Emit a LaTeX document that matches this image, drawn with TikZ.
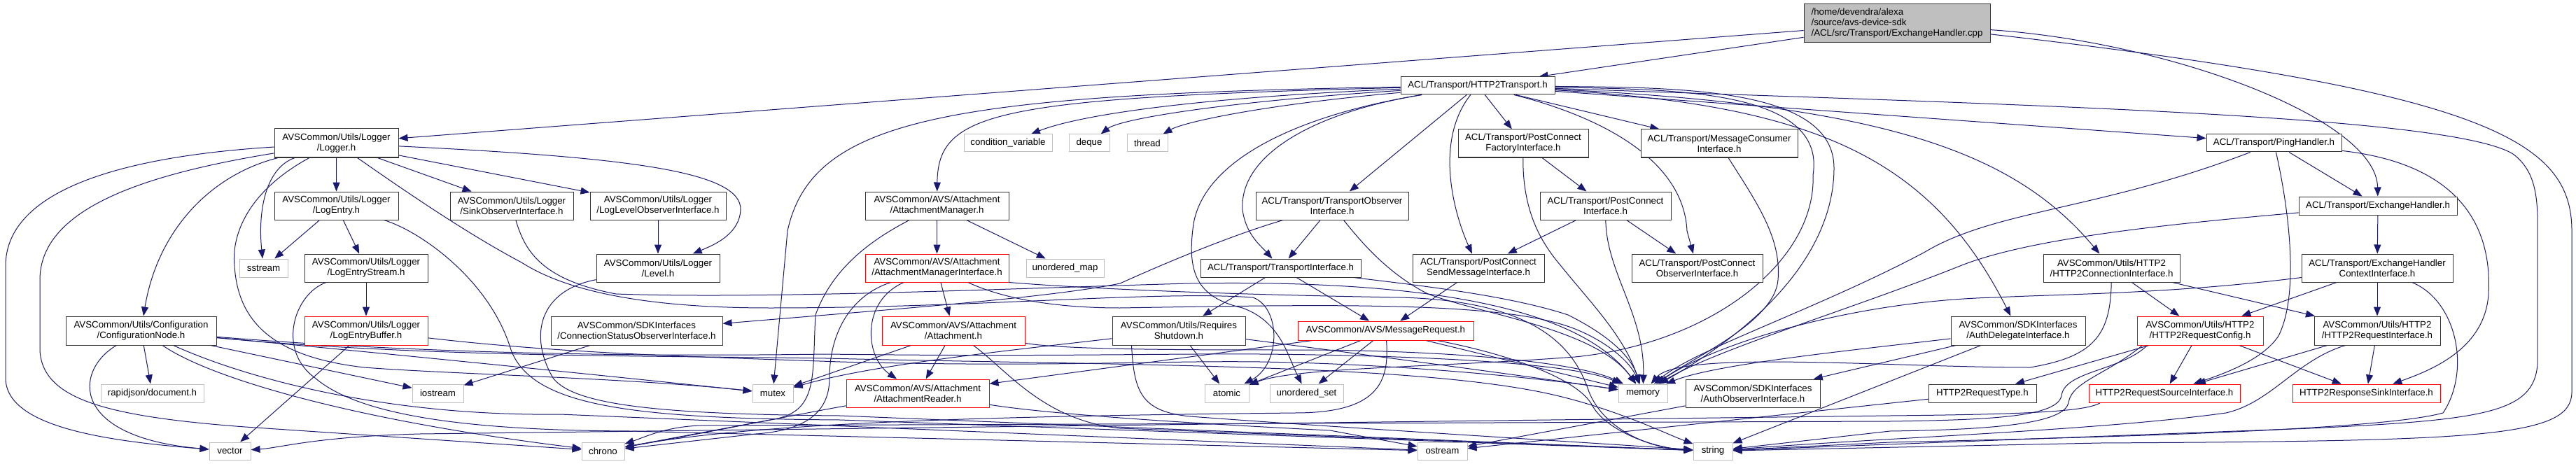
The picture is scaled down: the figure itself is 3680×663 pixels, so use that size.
\documentclass[tikz,border=0pt]{standalone}
\usepackage{fontspec}
\setmainfont{Liberation Sans}
\usetikzlibrary{arrows.meta,backgrounds}
\definecolor{eblue}{HTML}{191970}
\definecolor{gsev}{HTML}{BFBFBF}
\definecolor{bdark}{HTML}{333333}
\begin{document}
\begin{tikzpicture}[x=1pt,y=-1pt,
  box/.style={draw=bdark, line width=1pt, fill=white, inner sep=0pt, align=center,
     font=\fontsize{13.3pt}{15pt}\selectfont, text=black},
  rbox/.style={box, draw=red},
  gbox/.style={box, draw=gsev},
  tbox/.style={box, fill=gsev, align=left},
  sz/.style 2 args={minimum width=#1pt, minimum height=#2pt},
  edg/.style={draw=eblue, line width=1pt, -{Triangle[length=13pt,width=10pt]}}
]
\useasboundingbox (0,0) rectangle (3680,663);
% ---------------- nodes ----------------
\node[tbox, sz={266}{55}] (cpp) at (2710,33.5) {/home/devendra/alexa\\/source/avs-device-sdk\\/ACL/src/Transport/ExchangeHandler.cpp};
\node[box, sz={220}{25}] (h2t) at (2111,122.5) {ACL/Transport/HTTP2Transport.h};
\node[box, sz={177}{41}] (logger) at (480.5,204.5) {AVSCommon/Utils/Logger\\/Logger.h};
\node[box, sz={177}{40}] (logentry) at (480.5,294) {AVSCommon/Utils/Logger\\/LogEntry.h};
\node[box, sz={176}{40}] (sink) at (731,294) {AVSCommon/Utils/Logger\\/SinkObserverInterface.h};
\node[box, sz={194}{40}] (loglevel) at (940,294) {AVSCommon/Utils/Logger\\/LogLevelObserverInterface.h};
\node[gbox, sz={69}{26}] (sstream) at (376.5,383) {sstream};
\node[box, sz={176}{40}] (les) at (523,383) {AVSCommon/Utils/Logger\\/LogEntryStream.h};
\node[box, sz={176}{40}] (level) at (940,383) {AVSCommon/Utils/Logger\\/Level.h};
\node[rbox, sz={176}{41}] (leb) at (523,472.5) {AVSCommon/Utils/Logger\\/LogEntryBuffer.h};
\node[box, sz={215}{41}] (confnode) at (201.5,472.5) {AVSCommon/Utils/Configuration\\/ConfigurationNode.h};
\node[gbox, sz={147}{26}] (rapidjson) at (217.5,562) {rapidjson/document.h};
\node[gbox, sz={73}{26}] (iostream) at (625.5,562) {iostream};
\node[gbox, sz={59}{25}] (vector) at (328.5,644.5) {vector};
\node[gbox, sz={61}{25}] (chrono) at (861.5,644.5) {chrono};
\node[gbox, sz={58}{26}] (mutex) at (1104,562) {mutex};
\node[box, sz={245}{41}] (connstatus) at (909.5,472.5) {AVSCommon/SDKInterfaces\\/ConnectionStatusObserverInterface.h};
\node[gbox, sz={126}{25}] (cv) at (1440,204.5) {condition\_variable};
\node[gbox, sz={58}{25}] (deque) at (1556,204.5) {deque};
\node[gbox, sz={58}{25}] (thread) at (1639,204.5) {thread};
\node[box, sz={205}{40}] (am) at (1338.5,294) {AVSCommon/AVS/Attachment\\/AttachmentManager.h};
\node[gbox, sz={111}{26}] (umap) at (1521.5,383) {unordered\_map};
\node[rbox, sz={205}{40}] (ami) at (1338.5,383) {AVSCommon/AVS/Attachment\\/AttachmentManagerInterface.h};
\node[rbox, sz={204}{41}] (att) at (1362,472.5) {AVSCommon/AVS/Attachment\\/Attachment.h};
\node[rbox, sz={204}{40}] (ar) at (1311,562) {AVSCommon/AVS/Attachment\\/AttachmentReader.h};
\node[box, sz={218}{40}] (tobs) at (1903,294) {ACL/Transport/TransportObserver\\Interface.h};
\node[box, sz={229}{26}] (ti) at (1829.5,383) {ACL/Transport/TransportInterface.h};
\node[box, sz={190}{41}] (rs) at (1684,472.5) {AVSCommon/Utils/Requires\\Shutdown.h};
\node[rbox, sz={251}{27}] (mr) at (1979.5,472.5) {AVSCommon/AVS/MessageRequest.h};
\node[gbox, sz={63}{26}] (atomic) at (1752.5,562) {atomic};
\node[gbox, sz={105}{26}] (uset) at (1866.5,562) {unordered\_set};
\node[gbox, sz={71}{25}] (ostream) at (2060.5,644.5) {ostream};
\node[box, sz={186}{40}] (pcf) at (2176,205) {ACL/Transport/PostConnect\\FactoryInterface.h};
\node[box, sz={187}{40}] (pci) at (2293.5,294) {ACL/Transport/PostConnect\\Interface.h};
\node[box, sz={188}{40}] (pcs) at (2112,383) {ACL/Transport/PostConnect\\SendMessageInterface.h};
\node[box, sz={187}{40}] (pcobs) at (2424.5,383) {ACL/Transport/PostConnect\\ObserverInterface.h};
\node[box, sz={224}{40}] (mcons) at (2456,205) {ACL/Transport/MessageConsumer\\Interface.h};
\node[gbox, sz={70}{26}] (memory) at (2347,562) {memory};
\node[gbox, sz={56}{25}] (string) at (2447,644.5) {string};
\node[box, sz={195}{40}] (h2conn) at (3016.5,383) {AVSCommon/Utils/HTTP2\\/HTTP2ConnectionInterface.h};
\node[box, sz={192}{41}] (authd) at (2883,472.5) {AVSCommon/SDKInterfaces\\/AuthDelegateInterface.h};
\node[box, sz={192}{40}] (authobs) at (2504,562) {AVSCommon/SDKInterfaces\\/AuthObserverInterface.h};
\node[box, sz={154}{26}] (h2rtype) at (2832,562) {HTTP2RequestType.h};
\node[box, sz={193}{25}] (ping) at (3248.5,204.5) {ACL/Transport/PingHandler.h};
\node[box, sz={226}{26}] (eh) at (3397,294) {ACL/Transport/ExchangeHandler.h};
\node[box, sz={216}{40}] (ehc) at (3396,383) {ACL/Transport/ExchangeHandler\\ContextInterface.h};
\node[rbox, sz={180}{41}] (h2rc) at (3143,472.5) {AVSCommon/Utils/HTTP2\\/HTTP2RequestConfig.h};
\node[box, sz={180}{41}] (h2ri) at (3396,472.5) {AVSCommon/Utils/HTTP2\\/HTTP2RequestInterface.h};
\node[rbox, sz={216}{26}] (h2rsrc) at (3092,562) {HTTP2RequestSourceInterface.h};
\node[rbox, sz={211}{26}] (h2rsink) at (3380.5,562) {HTTP2ResponseSinkInterface.h};
% ---------------- edges ----------------
\begin{pgfonlayer}{background}
\fill[white] (0,0) rectangle (3680,663);
% cpp
\draw[edg] (cpp) -- (h2t);
\draw[edg] (cpp) -- (logger);
\draw[edg] (cpp) .. controls (3100,60) and (3395,170) .. (eh);
\draw[edg] (cpp) .. controls (3550,130) and (3674,200) .. (3674,330) -- (3674,560) .. controls (3674,625) and (3550,630) .. (3000,633) -- (string);
% HTTP2Transport
\draw[edg] (h2t) .. controls (1700,140) and (1540,165) .. (cv);
\draw[edg] (h2t) .. controls (1750,145) and (1600,170) .. (deque);
\draw[edg] (h2t) .. controls (1800,150) and (1690,175) .. (thread);
\draw[edg] (h2t) .. controls (1420,140) and (1340,160) .. (am);
\draw[edg] (h2t) .. controls (1350,135) and (1160,170) .. (1125,330) -- (mutex);
\draw[edg] (h2t) -- (tobs);
\draw[edg] (h2t) .. controls (1880,160) and (1770,220) .. (1775,300) .. controls (1780,335) and (1800,350) .. (ti);
\draw[edg] (h2t) -- (pcf);
\draw[edg] (h2t) .. controls (2050,200) and (2075,300) .. (pcs);
\draw[edg] (h2t) -- (mcons);
\draw[edg] (h2t) .. controls (2280,165) and (2405,225) .. (2410,330) -- (pcobs);
\draw[edg] (h2t) -- (ping);
\draw[edg] (h2t) .. controls (2700,150) and (2880,220) .. (h2conn);
\draw[edg] (h2t) .. controls (2600,150) and (2760,230) .. (authd);
\draw[edg] (h2t) .. controls (2400,125) and (2620,125) .. (2620,240) .. controls (2620,330) and (2560,440) .. (memory);
\draw[edg] (h2t) .. controls (2380,128) and (2610,125) .. (2590,250) .. controls (2595,370) and (2450,490) .. (2250,510) .. controls (2050,525) and (1850,525) .. (atomic);
\draw[edg] (h2t) .. controls (1850,165) and (1720,230) .. (1705,320) .. controls (1695,390) and (1710,425) .. (1775,440) .. controls (1830,460) and (1840,510) .. (uset);
\draw[edg] (h2t) .. controls (2900,150) and (3500,165) .. (3590,220) .. controls (3630,250) and (3625,300) .. (3625,360) -- (3625,520) .. controls (3620,590) and (3550,600) .. (3300,612) -- (string);
% Logger
\draw[edg] (logger) -- (logentry);
\draw[edg] (logger) -- (sink);
\draw[edg] (logger) -- (loglevel);
\draw[edg] (logger) .. controls (900,225) and (1060,245) .. (1058,300) .. controls (1056,335) and (1020,350) .. (level);
\draw[edg] (logger) .. controls (150,225) and (8,280) .. (8,380) -- (8,540) .. controls (8,610) and (150,630) .. (vector);
\draw[edg] (logger) .. controls (200,250) and (57,300) .. (57,400) -- (57,500) .. controls (60,570) and (150,595) .. (350,610) -- (chrono);
\draw[edg] (logger) .. controls (300,250) and (225,330) .. (confnode);
\draw[edg] (logger) .. controls (380,240) and (368,300) .. (sstream);
\draw[edg] (logger) .. controls (360,270) and (330,330) .. (335,380) .. controls (340,460) and (390,510) .. (520,525) .. controls (650,535) and (900,540) .. (mutex);
\draw[edg] (logger) .. controls (560,260) and (660,330) .. (745,375) .. controls (800,410) and (900,440) .. (1100,440) .. controls (1400,440) and (1650,415) .. (1790,425) .. controls (1830,440) and (1830,520) .. (atomic);
% LogEntry
\draw[edg] (logentry) -- (sstream);
\draw[edg] (logentry) -- (les);
\draw[edg] (logentry) .. controls (600,330) and (700,400) .. (730,500) .. controls (760,580) and (900,598) .. (1200,600) -- (string);
% Sink, LogLevel, Level
\draw[edg] (sink) .. controls (750,360) and (775,400) .. (880,420) .. controls (1100,428) and (1500,410) .. (1700,405) .. controls (2000,400) and (2250,430) .. (memory);
\draw[edg] (loglevel) -- (level);
\draw[edg] (level) .. controls (770,415) and (755,480) .. (790,540) .. controls (820,580) and (950,592) .. (1200,594) -- (string);
% LogEntryStream, LogEntryBuffer
\draw[edg] (les) -- (leb);
\draw[edg] (les) .. controls (420,420) and (395,500) .. (450,540) .. controls (520,600) and (700,615) .. (900,616) -- (ostream);
\draw[edg] (leb) -- (vector);
\draw[edg] (leb) .. controls (800,505) and (1000,510) .. (1200,517) .. controls (1500,525) and (1650,515) .. (1800,517) .. controls (2000,520) and (2200,540) .. (memory);
% ConfigurationNode
\draw[edg] (confnode) -- (rapidjson);
\draw[edg] (confnode) .. controls (105,530) and (100,625) .. (vector);
\draw[edg] (confnode) -- (iostream);
\draw[edg] (confnode) .. controls (300,540) and (500,600) .. (chrono);
\draw[edg] (confnode) .. controls (350,540) and (550,595) .. (800,592) -- (ostream);
\draw[edg] (confnode) .. controls (500,500) and (800,530) .. (mutex);
\draw[edg] (confnode) .. controls (600,505) and (900,510) .. (1180,506) .. controls (1500,510) and (1650,505) .. (1800,506) .. controls (2050,508) and (2250,520) .. (memory);
\draw[edg] (confnode) .. controls (600,510) and (900,508) .. (1180,512) .. controls (1600,522) and (2000,520) .. (2200,560) .. controls (2300,580) and (2380,620) .. (string);
% ConnectionStatus
\draw[edg] (connstatus) -- (iostream);
% Attachment family
\draw[edg] (am) -- (ami);
\draw[edg] (am) -- (umap);
\draw[edg] (am) .. controls (1250,340) and (1190,380) .. (1165,450) .. controls (1160,540) and (1170,590) .. (1100,600) -- (chrono);
\draw[edg] (ami) -- (att);
\draw[edg] (ami) .. controls (1230,430) and (1235,510) .. (ar);
\draw[edg] (ami) .. controls (1220,420) and (1185,470) .. (1185,540) .. controls (1185,590) and (1150,615) .. (1080,620) -- (chrono);
\draw[edg] (ami) .. controls (1440,430) and (1520,440) .. (1600,440) .. controls (1900,435) and (2150,430) .. (2250,470) .. controls (2300,490) and (2330,520) .. (memory);
\draw[edg] (ami.south east) .. controls (1520,410) and (1700,420) .. (2000,425) .. controls (2200,430) and (2250,500) .. (2270,560) .. controls (2290,610) and (2350,640) .. (string);
\draw[edg] (att) -- (ar);
\draw[edg] (att) -- (mutex);
\draw[edg] (att) .. controls (1440,530) and (1490,600) .. (1600,612) -- (string);
\draw[edg] (att) .. controls (1520,500) and (1700,500) .. (1850,500) .. controls (2050,500) and (2250,515) .. (memory);
\draw[edg] (ar) .. controls (1150,590) and (1000,620) .. (chrono);
\draw[edg] (ar) .. controls (1500,592) and (1700,605) .. (1900,615) -- (ostream);
% Transport observer / interface
\draw[edg] (tobs) -- (ti);
\draw[edg] (tobs) .. controls (1780,330) and (1700,360) .. (1600,405) .. controls (1500,425) and (1300,440) .. (connstatus);
\draw[edg] (tobs) .. controls (1940,340) and (1980,390) .. (2040,420) .. controls (2120,450) and (2280,470) .. (memory);
\draw[edg] (ti) -- (rs);
\draw[edg] (ti) -- (mr);
\draw[edg] (ti) .. controls (2000,405) and (2150,420) .. (2240,450) .. controls (2300,480) and (2330,510) .. (memory);
\draw[edg] (pcs) -- (mr);
% RequiresShutdown
\draw[edg] (rs) -- (atomic);
\draw[edg] (rs) .. controls (1450,500) and (1250,520) .. (mutex);
\draw[edg] ([xshift=28pt]rs.south west) .. controls (1620,560) and (1630,588) .. (1700,595) .. controls (1900,610) and (2200,628) .. (string);
\draw[edg] (rs) .. controls (1900,500) and (2200,540) .. (memory);
% MessageRequest
\draw[edg] (mr) -- (uset);
\draw[edg] (mr) -- (atomic);
\draw[edg] (mr) -- (ar);
\draw[edg] (mr) .. controls (1985,545) and (1970,590) .. (1850,590) .. controls (1500,594) and (1100,600) .. (chrono);
\draw[edg] (mr) -- (memory);
\draw[edg] (mr) .. controls (2150,505) and (2255,540) .. (2275,580) .. controls (2295,615) and (2360,640) .. (string);
% PostConnect
\draw[edg] (pcf) -- (pci);
\draw[edg] (pcf) .. controls (2175,300) and (2200,345) .. (2230,380) .. controls (2270,430) and (2320,480) .. (memory);
\draw[edg] (pci) -- (pcs);
\draw[edg] (pci) -- (pcobs);
\draw[edg] (pci) .. controls (2295,390) and (2350,450) .. (memory);
\draw[edg] (mcons) .. controls (2510,290) and (2545,340) .. (2540,400) .. controls (2535,460) and (2420,510) .. (memory);
% PingHandler, ExchangeHandler
\draw[edg] (ping) -- (eh);
\draw[edg] (ping) .. controls (3000,300) and (2850,300) .. (2750,360) .. controls (2600,440) and (2420,500) .. (memory);
\draw[edg] (ping) .. controls (3270,300) and (3285,420) .. (3255,480) .. controls (3235,510) and (3190,530) .. (h2rsrc);
\draw[edg] (ping) .. controls (3520,235) and (3560,330) .. (3555,420) .. controls (3550,500) and (3470,530) .. (h2rsink);
\draw[edg] (eh) -- (ehc);
\draw[edg] (eh) .. controls (3100,320) and (2900,340) .. (2800,380) .. controls (2650,440) and (2450,500) .. (memory);
\draw[edg] (ehc) -- (h2rc);
\draw[edg] (ehc) -- (h2ri);
\draw[edg] (ehc) .. controls (3100,420) and (2950,420) .. (2850,425) .. controls (2650,430) and (2450,490) .. (memory);
\draw[edg] (ehc) .. controls (3510,430) and (3530,530) .. (3490,590) .. controls (3400,615) and (3000,625) .. (2700,632) -- (string);
% HTTP2
\draw[edg] (h2conn) -- (h2rc);
\draw[edg] (h2conn) -- (h2ri);
\draw[edg] (h2conn) .. controls (3015,480) and (2990,510) .. (2900,525) .. controls (2700,525) and (2400,500) .. (memory);
\draw[edg] (authd) -- (authobs);
\draw[edg] (authd) .. controls (2650,500) and (2450,520) .. (memory);
\draw[edg] (authd) -- (string);
\draw[edg] (authobs) -- (ostream);
\draw[edg] (h2rtype) -- (ostream);
\draw[edg] (h2rc) -- (h2rsrc);
\draw[edg] (h2rc) -- (h2rsink);
\draw[edg] (h2rc) -- (h2rtype);
\draw[edg] ([xshift=15pt]h2rc.south west) .. controls (3030,530) and (2950,530) .. (2945,565) .. controls (2940,595) and (2850,600) .. (2700,602) -- (1000,608) .. controls (950,610) and (920,625) .. (chrono);
\draw[edg] ([xshift=8pt]h2rc.south west) .. controls (3010,535) and (2960,545) .. (2955,575) .. controls (2950,605) and (2850,614) .. (2700,616) -- (string);
\draw[edg] (h2ri) -- (h2rsrc);
\draw[edg] (h2ri) -- (h2rsink);
\draw[edg] ([xshift=45pt]h2ri.south west) .. controls (3280,515) and (3245,575) .. (3180,590) .. controls (3000,615) and (2700,625) .. (string);
\draw[edg] ([xshift=17pt]h2rsrc.south west) .. controls (2980,588) and (2900,592) .. (2700,594) -- (600,620) .. controls (450,624) and (400,640) .. (vector);
\end{pgfonlayer}
\end{tikzpicture}
\end{document}
